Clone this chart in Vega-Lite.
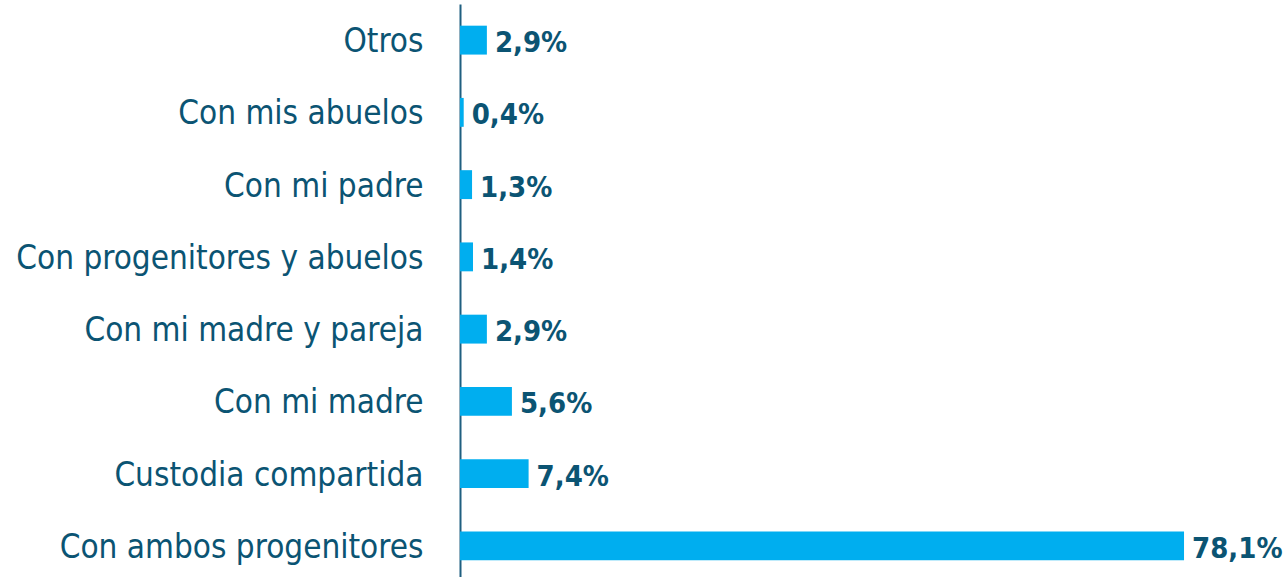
{
  "$schema": "https://vega.github.io/schema/vega-lite/v6.json",
  "autosize": "none",
  "padding": {"left": 460, "top": 4, "right": 0, "bottom": 0},
  "width": 826,
  "height": 578,
  "background": "white",
  "data": {"values": [
    {"cat": "Otros", "v": 2.9, "lab": "2,9%"},
    {"cat": "Con mis abuelos", "v": 0.4, "lab": "0,4%"},
    {"cat": "Con mi padre", "v": 1.3, "lab": "1,3%"},
    {"cat": "Con progenitores y abuelos", "v": 1.4, "lab": "1,4%"},
    {"cat": "Con mi madre y pareja", "v": 2.9, "lab": "2,9%"},
    {"cat": "Con mi madre", "v": 5.6, "lab": "5,6%"},
    {"cat": "Custodia compartida", "v": 7.4, "lab": "7,4%"},
    {"cat": "Con ambos progenitores", "v": 78.1, "lab": "78,1%"}
  ]},
  "encoding": {
    "y": {"field": "cat", "type": "nominal", "sort": null,
      "scale": {"paddingInner": 0.6, "paddingOuter": 0.3},
      "axis": {"title": null, "ticks": false, "labelPadding": 37, "labelOffset": 2, "labelFont": "DejaVu Sans Condensed, sans-serif", "labelFontSize": 33, "labelColor": "#0B5473", "domainColor": "#1F5F80", "domainWidth": 2, "labelLimit": 500}},
    "x": {"field": "v", "type": "quantitative", "scale": {"domain": [0, 89.1]}, "axis": null}
  },
  "layer": [
    {"mark": {"type": "bar", "color": "#00AEEF"}},
    {"mark": {"type": "text", "align": "left", "baseline": "middle", "dx": 8, "dy": 3, "font": "DejaVu Sans Condensed, sans-serif", "fontSize": 29, "fontWeight": "bold", "color": "#0B5473"},
     "encoding": {"text": {"field": "lab"}}}
  ],
  "config": {"view": {"stroke": null}}
}
